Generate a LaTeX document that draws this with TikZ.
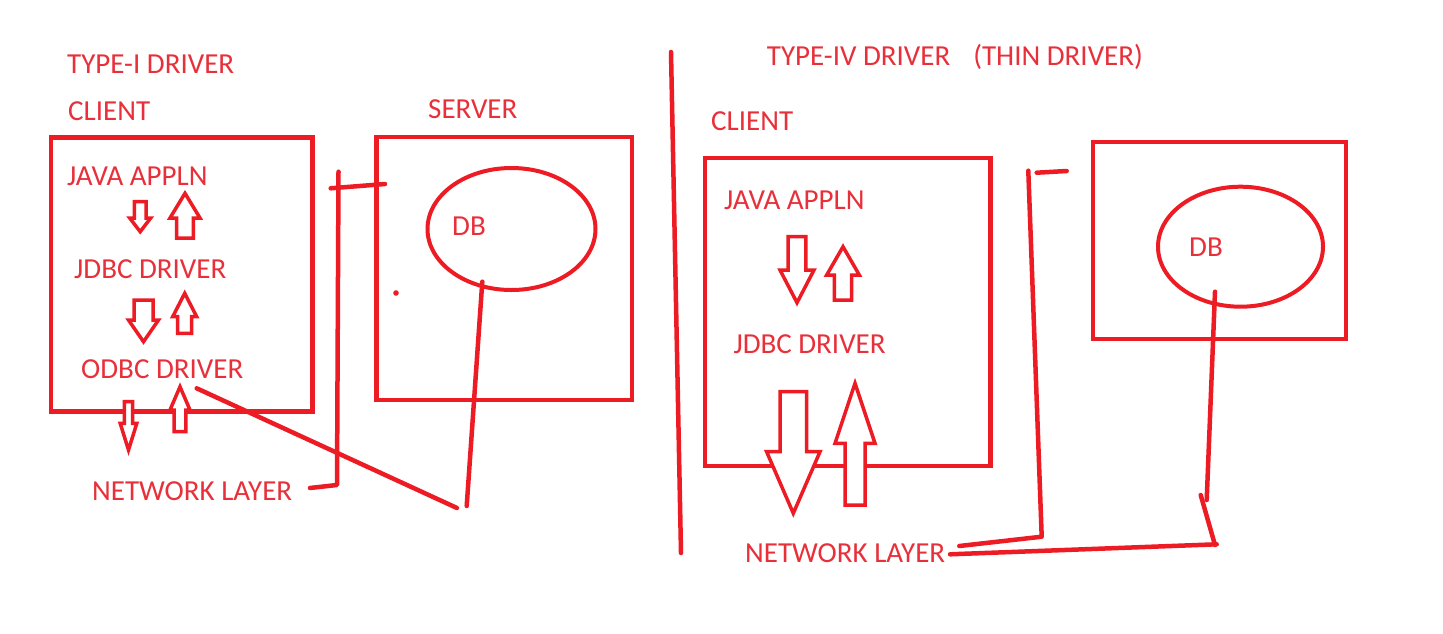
\documentclass[tikz,border=0pt]{standalone}
\usepackage{fontspec}
\setmainfont{Carlito}
\usetikzlibrary{shapes.geometric}
\definecolor{paintred}{RGB}{237,28,36}
\definecolor{textred}{RGB}{232,48,58}
\newcommand{\bkarrow}[6]{% x, tail y, head-base y, tip y, shaft half, head half
  \draw[blockarrow] (#1-#5,#2) -- (#1+#5,#2) -- (#1+#5,#3) -- (#1+#6,#3) -- (#1,#4) -- (#1-#6,#3) -- (#1-#5,#3) -- cycle;}
\begin{document}
\begin{tikzpicture}[x=1pt,y=-1pt,
  lbl/.style={anchor=base west,inner sep=0pt,text=textred,font=\fontsize{29}{31}\selectfont},
  frame/.style={draw=paintred,line width=4.5pt,anchor=north west,inner sep=0pt,outer sep=0pt},
  dbshape/.style={draw=paintred,line width=4pt,ellipse,inner sep=0pt,outer sep=0pt},
  wire/.style={draw=paintred,line width=4.5pt,line cap=round,line join=round},
  blockarrow/.style={draw=paintred,line width=3.5pt,line join=miter,fill=white}]
\useasboundingbox (0,0) rectangle (1443,633);
\fill[white] (0,0) rectangle (1443,633);

% ---------------- left: TYPE-I ----------------
\node[lbl] (t1) at (67,73) {TYPE-I DRIVER};
\node[lbl] (cl1) at (68,120) {CLIENT};
\node[frame,minimum width=261.5pt,minimum height=274pt] (cbox1) at (51,137.5) {};
\node[lbl] (ja1) at (67,185) {JAVA APPLN};
\node[lbl] (jd1) at (74,278.5) {JDBC DRIVER};
\node[lbl] (od1) at (81,378) {ODBC DRIVER};
\node[lbl] (nl1) at (92,500.5) {NETWORK LAYER};
\node[lbl] (sv1) at (428,118) {SERVER};
\node[frame,minimum width=255.5pt,minimum height=263pt] (sbox1) at (376.5,137) {};
\node[dbshape,minimum width=168pt,minimum height=122pt] (db1) at (511.5,229) {};
\node[lbl] (dbl1) at (452,235) {DB};
\fill[paintred] (396,293) circle (2.8pt);

\bkarrow{140.2}{201.7}{218}{231.7}{5.8}{10.5}
\bkarrow{185}{238}{218}{193.3}{8.3}{15}
\bkarrow{143.5}{300}{320}{341.7}{9.5}{15}
\bkarrow{184.7}{333.3}{316.7}{293.3}{7}{12}
\bkarrow{128.5}{401.7}{423.3}{450}{4.2}{8.3}
\bkarrow{180}{431.7}{410}{386.7}{5.8}{10}

\coordinate (a1) at (338.5,171.7);
\coordinate (a2) at (337,485);
\coordinate (a3) at (310,488);
\coordinate (b1) at (330.7,188.3);
\coordinate (b2) at (385,184);
\coordinate (c1) at (196.7,388.3);
\coordinate (c2) at (457,508);
\coordinate (d1) at (482.3,281.7);
\coordinate (d2) at (466.7,506);
\draw[wire] (a1) -- (a2) -- (a3);
\draw[wire] (b1) -- (b2);
\draw[wire] (c1) -- (c2);
\draw[wire] (d1) -- (d2);

% ---------------- divider ----------------
\coordinate (v1) at (671,52);
\coordinate (v2) at (681,553);
\draw[wire] (v1) -- (v2);

% ---------------- right: TYPE-IV ----------------
\node[lbl] (t4) at (766.7,65) {TYPE-IV DRIVER\hspace{23pt}(THIN DRIVER)};
\node[lbl] (cl4) at (711,130) {CLIENT};
\node[frame,minimum width=285.5pt,minimum height=308pt] (cbox4) at (705,158) {};
\node[lbl] (ja4) at (724,209) {JAVA APPLN};
\node[lbl] (jd4) at (733.3,353.3) {JDBC DRIVER};
\node[lbl] (nl4) at (745,562) {NETWORK LAYER};
\node[frame,minimum width=253pt,minimum height=197pt] (sbox4) at (1093,142) {};
\node[dbshape,minimum width=165pt,minimum height=120pt] (db4) at (1240.5,246.7) {};
\node[lbl] (dbl4) at (1189,256.7) {DB};

\bkarrow{797}{236.7}{270}{302.7}{8.8}{17}
\bkarrow{843}{300}{275}{246.7}{8.7}{16.3}
\bkarrow{793.3}{391.7}{451.7}{513.3}{13.3}{26.7}
\bkarrow{855}{505}{443.3}{383.3}{10}{20}

\coordinate (e1) at (1036.7,172.7);
\coordinate (e2) at (1066.7,171);
\coordinate (f1) at (1028.3,170.7);
\coordinate (f2) at (1041.7,536.7);
\coordinate (f3) at (959.3,546);
\coordinate (g1) at (950,554.3);
\coordinate (g2) at (1216.7,544.3);
\coordinate (h1) at (1215,291.7);
\coordinate (h2) at (1206.7,500);
\coordinate (k1) at (1200.7,495);
\coordinate (k2) at (1215,545);
\draw[wire] (e1) -- (e2);
\draw[wire] (f1) -- (f2) -- (f3);
\draw[wire] (g1) -- (g2);
\draw[wire] (h1) -- (h2);
\draw[wire] (k1) -- (k2);
\end{tikzpicture}
\end{document}
